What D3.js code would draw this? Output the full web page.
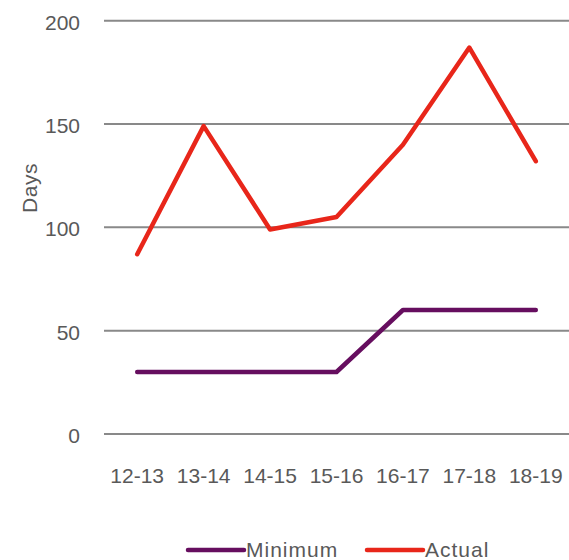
<!DOCTYPE html>
<html>
<head>
<meta charset="utf-8">
<script src="https://cdn.jsdelivr.net/npm/d3@7"></script>
<style>
  body { margin: 0; background: #fff; }
  text { font-family: "Liberation Sans", Arial, sans-serif; fill: #595959; }
</style>
</head>
<body>
<script>
const seasons = ["12-13", "13-14", "14-15", "15-16", "16-17", "17-18", "18-19"];
const minimum = [30, 30, 30, 30, 60, 60, 60];
const actual = [87, 149, 99, 105, 140, 187, 132];
const yTicks = [0, 50, 100, 150, 200];

const width = 569;
const height = 560;

const svg = d3
  .select("body")
  .append("svg")
  .attr("width", width)
  .attr("height", height);

const xScale = d3.scalePoint().domain(seasons).range([104, 569]).padding(0.5);
const yScale = d3.scaleLinear().domain([0, 200]).range([434, 20.7]);

// gridlines
svg
  .append("g")
  .selectAll("line")
  .data(yTicks)
  .enter()
  .append("line")
  .attr("x1", 104)
  .attr("x2", 569)
  .attr("y1", (d) => yScale(d))
  .attr("y2", (d) => yScale(d))
  .attr("stroke", "#898989")
  .attr("stroke-width", 2);

// y tick labels
svg
  .append("g")
  .selectAll("text")
  .data(yTicks)
  .enter()
  .append("text")
  .attr("x", 80)
  .attr("y", (d) => yScale(d) + 9)
  .attr("text-anchor", "end")
  .attr("font-size", "21px")
  .text((d) => d);

// x tick labels
svg
  .append("g")
  .selectAll("text")
  .data(seasons)
  .enter()
  .append("text")
  .attr("x", (d) => xScale(d))
  .attr("y", 483)
  .attr("text-anchor", "middle")
  .attr("font-size", "21px")
  .text((d) => d);

svg
  .append("text")
  .attr("transform", "translate(37, 188) rotate(-90)")
  .attr("text-anchor", "middle")
  .attr("font-size", "21px")
  .attr("letter-spacing", "0.5px")
  .text("Days");

const series = [
  { name: "Minimum", values: minimum, color: "#660e5f" },
  { name: "Actual", values: actual, color: "#e8261a" },
];

const line = d3
  .line()
  .x((d, i) => xScale(seasons[i]))
  .y((d) => yScale(d));

series.forEach((s) => {
  svg
    .append("path")
    .attr("d", line(s.values))
    .attr("fill", "none")
    .attr("stroke", s.color)
    .attr("stroke-width", 4.5)
    .attr("stroke-linejoin", "round")
    .attr("stroke-linecap", "round");
});

// legend
const legendX = [188, 367];
series.forEach((s, i) => {
  const g = svg.append("g").attr("transform", `translate(${legendX[i]}, 550)`);
  g.append("line")
    .attr("x1", 0)
    .attr("x2", 56)
    .attr("stroke", s.color)
    .attr("stroke-width", 4.5)
    .attr("stroke-linecap", "round");
  g.append("text")
    .attr("x", 58)
    .attr("y", 7)
    .attr("font-size", "21px")
    .attr("letter-spacing", "1px")
    .text(s.name);
});
</script>
</body>
</html>
